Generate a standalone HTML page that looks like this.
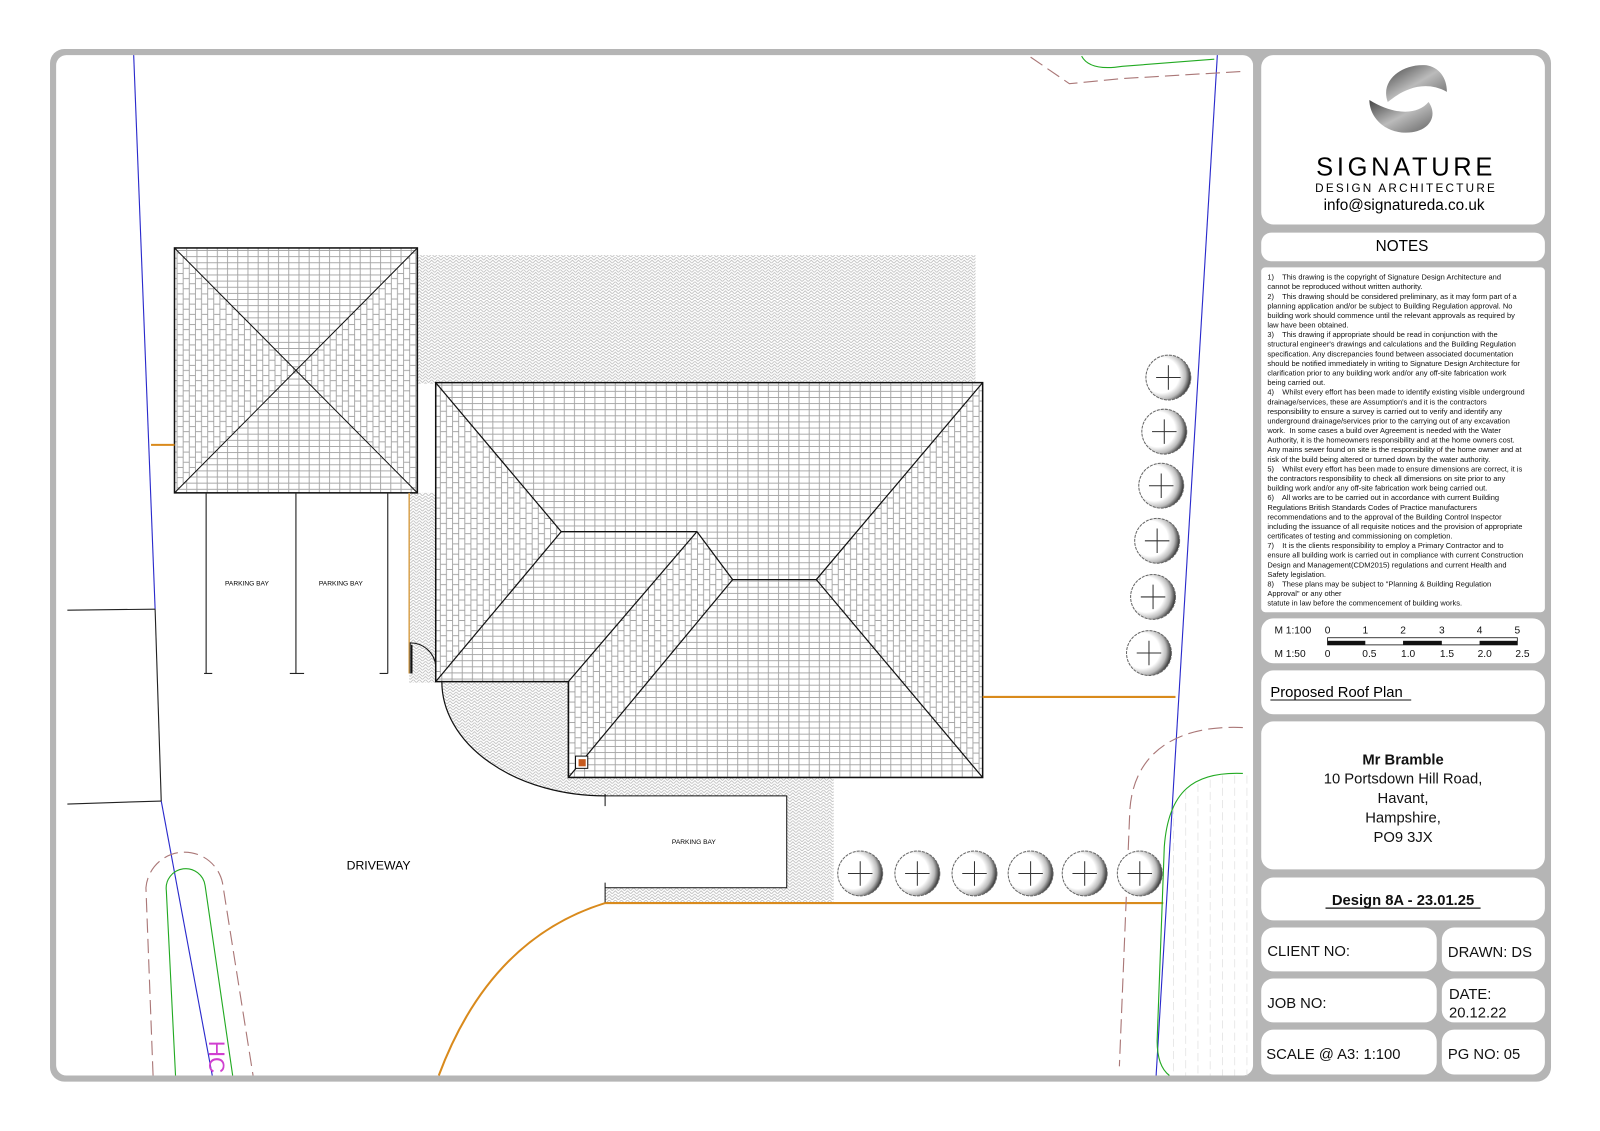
<!DOCTYPE html>
<html><head><meta charset="utf-8"><style>
html,body{margin:0;padding:0;background:#fff}
svg{display:block}
text{font-family:"Liberation Sans",sans-serif}
.n text{white-space:pre}
</style></head><body>
<svg width="1600" height="1131" viewBox="0 0 1568 1108.4" xmlns="http://www.w3.org/2000/svg">
<defs>
<pattern id="th" width="10" height="6" patternUnits="userSpaceOnUse">
<rect width="10" height="6" fill="#fff"/>
<path d="M0 5.5H10M3 0V5.5" stroke="#999" stroke-width="0.8" fill="none"/>
</pattern>
<pattern id="tv" width="12" height="10" patternUnits="userSpaceOnUse">
<rect width="12" height="10" fill="#fff"/>
<path d="M5.5 0V10M11.5 0V10M0 3H5.5M6 8H11.5" stroke="#999" stroke-width="0.8" fill="none"/>
</pattern>
<pattern id="hb" width="6" height="6" patternUnits="userSpaceOnUse">
<rect width="6" height="6" fill="#fff"/>
<path d="M0 6L3 3L6 6M0 3L3 0L6 3" stroke="#bbb" stroke-width="0.8" fill="none"/>
</pattern>
<linearGradient id="lg" x1="0" y1="0" x2="1" y2="1"><stop offset="0" stop-color="#444"/><stop offset="0.5" stop-color="#bbb"/><stop offset="1" stop-color="#666"/></linearGradient>
<radialGradient id="tr" cx="0.35" cy="0.45" r="0.65"><stop offset="0.6" stop-color="#fff"/><stop offset="0.82" stop-color="#bbb"/><stop offset="1" stop-color="#333"/></radialGradient>
</defs>

<rect x="49" y="48" width="1471" height="1012" rx="14" fill="#b5b5b5"/>
<rect x="55" y="54" width="1173" height="1000" rx="10" fill="#fff"/>
<g fill="#fff">
<rect x="1236" y="54" width="278" height="166" rx="12"/>
<rect x="1236" y="228" width="278" height="28" rx="10"/>
<rect x="1236" y="262" width="278" height="338" rx="4"/>
<rect x="1236" y="606" width="278" height="44" rx="12"/>
<rect x="1236" y="657" width="278" height="43" rx="12"/>
<rect x="1236" y="707" width="278" height="145" rx="12"/>
<rect x="1236" y="860" width="278" height="42" rx="12"/>
<rect x="1236" y="909" width="172" height="43" rx="12"/>
<rect x="1413" y="909" width="101" height="43" rx="12"/>
<rect x="1236" y="959" width="172" height="43" rx="12"/>
<rect x="1413" y="959" width="101" height="43" rx="12"/>
<rect x="1236" y="1009" width="172" height="44" rx="12"/>
<rect x="1413" y="1009" width="101" height="44" rx="12"/>
</g>

<path d="M1398 64 C1375 62 1352 78 1360 100 C1370 92 1392 76 1418 90 C1418 76 1410 66 1398 64Z" fill="url(#lg)"/>
<path d="M1342 98 C1342 114 1356 130 1378 130 C1400 130 1410 114 1400 100 C1390 112 1368 114 1342 98Z" fill="url(#lg)"/>
<text x="1378" y="172" font-size="25" text-anchor="middle" letter-spacing="3.6">SIGNATURE</text>
<text x="1378" y="188" font-size="11.5" text-anchor="middle" letter-spacing="2.2">DESIGN ARCHITECTURE</text>
<text x="1376" y="206" font-size="15" text-anchor="middle">info@signatureda.co.uk</text>
<text x="1374" y="246" font-size="15" text-anchor="middle">NOTES</text>

<g class="n" font-size="7.35" fill="#111" xml:space="preserve">
<text x="1242" y="274">1)    This drawing is the copyright of Signature Design Architecture and</text>
<text x="1242" y="283.4">cannot be reproduced without written authority.</text>
<text x="1242" y="292.8">2)    This drawing should be considered preliminary, as it may form part of a</text>
<text x="1242" y="302.2">planning application and/or be subject to Building Regulation approval. No</text>
<text x="1242" y="311.6">building work should commence until the relevant approvals as required by</text>
<text x="1242" y="321">law have been obtained.</text>
<text x="1242" y="330.4">3)    This drawing if appropriate should be read in conjunction with the</text>
<text x="1242" y="339.8">structural engineer's drawings and calculations and the Building Regulation</text>
<text x="1242" y="349.2">specification. Any discrepancies found between associated documentation</text>
<text x="1242" y="358.6">should be notified immediately in writing to Signature Design Architecture for</text>
<text x="1242" y="368">clarification prior to any building work and/or any off-site fabrication work</text>
<text x="1242" y="377.4">being carried out.</text>
<text x="1242" y="386.8">4)    Whilst every effort has been made to identify existing visible underground</text>
<text x="1242" y="396.2">drainage/services, these are Assumption's and it is the contractors</text>
<text x="1242" y="405.6">responsibility to ensure a survey is carried out to verify and identify any</text>
<text x="1242" y="415">underground drainage/services prior to the carrying out of any excavation</text>
<text x="1242" y="424.4">work.  In some cases a build over Agreement is needed with the Water</text>
<text x="1242" y="433.8">Authority, it is the homeowners responsibility and at the home owners cost.</text>
<text x="1242" y="443.2">Any mains sewer found on site is the responsibility of the home owner and at</text>
<text x="1242" y="452.6">risk of the build being altered or turned down by the water authority.</text>
<text x="1242" y="462">5)    Whilst every effort has been made to ensure dimensions are correct, it is</text>
<text x="1242" y="471.4">the contractors responsibility to check all dimensions on site prior to any</text>
<text x="1242" y="480.8">building work and/or any off-site fabrication work being carried out.</text>
<text x="1242" y="490.2">6)    All works are to be carried out in accordance with current Building</text>
<text x="1242" y="499.6">Regulations British Standards Codes of Practice manufacturers</text>
<text x="1242" y="509">recommendations and to the approval of the Building Control Inspector</text>
<text x="1242" y="518.4">including the issuance of all requisite notices and the provision of appropriate</text>
<text x="1242" y="527.8">certificates of testing and commissioning on completion.</text>
<text x="1242" y="537.2">7)    It is the clients responsibility to employ a Primary Contractor and to</text>
<text x="1242" y="546.6">ensure all building work is carried out in compliance with current Construction</text>
<text x="1242" y="556">Design and Management(CDM2015) regulations and current Health and</text>
<text x="1242" y="565.4">Safety legislation.</text>
<text x="1242" y="574.8">8)    These plans may be subject to "Planning &amp; Building Regulation</text>
<text x="1242" y="584.2">Approval" or any other</text>
<text x="1242" y="593.6">statute in law before the commencement of building works.</text>
</g>

<g font-size="10" fill="#111">
<text x="1249" y="621">M 1:100</text>
<text x="1249" y="644">M 1:50</text>
<g text-anchor="middle">
<text x="1301" y="621">0</text><text x="1338" y="621">1</text><text x="1375" y="621">2</text><text x="1413" y="621">3</text><text x="1450" y="621">4</text><text x="1487" y="621">5</text>
<text x="1301" y="644">0</text><text x="1342" y="644">0.5</text><text x="1380" y="644">1.0</text><text x="1418" y="644">1.5</text><text x="1455" y="644">2.0</text><text x="1492" y="644">2.5</text>
</g>
<rect x="1301" y="625" width="186" height="7" fill="#fff" stroke="#111" stroke-width="0.8"/>
<rect x="1301" y="628" width="37" height="4" fill="#111"/>
<rect x="1375" y="628" width="38" height="4" fill="#111"/>
<rect x="1450" y="628" width="37" height="4" fill="#111"/>
</g>

<text x="1245" y="683" font-size="14.5">Proposed Roof Plan</text>
<line x1="1245" y1="686" x2="1383" y2="686" stroke="#111" stroke-width="1"/>
<g font-size="14.5" text-anchor="middle" fill="#111">
<text x="1375" y="749" font-weight="bold">Mr Bramble</text>
<text x="1375" y="768">10 Portsdown Hill Road,</text>
<text x="1375" y="787">Havant,</text>
<text x="1375" y="806">Hampshire,</text>
<text x="1375" y="825">PO9 3JX</text>
<text x="1375" y="887" font-weight="bold">Design 8A - 23.01.25</text>
</g>
<line x1="1299" y1="890" x2="1451" y2="890" stroke="#111" stroke-width="1.2"/>
<g font-size="14.5" fill="#111">
<text x="1242" y="937">CLIENT NO:</text>
<text x="1419" y="938">DRAWN: DS</text>
<text x="1242" y="988">JOB NO:</text>
<text x="1420" y="979">DATE:</text>
<text x="1420" y="997">20.12.22</text>
<text x="1241" y="1038">SCALE @ A3: 1:100</text>
<text x="1419" y="1038">PG NO: 05</text>
</g>

<g>
<g fill="url(#hb)">
<rect x="409" y="250" width="547" height="126"/>
<rect x="401" y="483" width="27" height="186"/>
<path d="M427 668 L557 668 L557 762 L817 762 L817 885 L593 885 L593 870 L771 870 L771 780 L593 780 A160 112 0 0 1 433 668Z"/>
</g>
<path d="M433 668 A160 112 0 0 0 593 780" fill="none" stroke="#111" stroke-width="1.2"/>
<path d="M593 780 H771 V870 H593" fill="none" stroke="#111" stroke-width="1"/>
<line x1="593" y1="778" x2="593" y2="790" stroke="#111"/>
<line x1="593" y1="865" x2="593" y2="885" stroke="#111"/>
<text x="680" y="827" font-size="6.5" text-anchor="middle">PARKING BAY</text>

<rect x="171" y="243" width="238" height="240" fill="url(#th)"/>
<polygon points="171,243 290,363 171,483" fill="url(#tv)"/>
<polygon points="409,243 290,363 409,483" fill="url(#tv)"/>
<rect x="171" y="243" width="238" height="240" fill="none" stroke="#111" stroke-width="1.5"/>
<path d="M171 243 L409 483 M409 243 L171 483" stroke="#111" stroke-width="1"/>
<line x1="148" y1="436" x2="171" y2="436" stroke="#d98a1c" stroke-width="2"/>

<g stroke="#222" stroke-width="1.1">
<line x1="202" y1="483" x2="202" y2="660"/><line x1="200" y1="660" x2="208" y2="660"/>
<line x1="290" y1="483" x2="290" y2="660"/><line x1="284" y1="660" x2="298" y2="660"/>
<line x1="380" y1="483" x2="380" y2="660"/><line x1="372" y1="660" x2="380" y2="660"/>
</g>
<text x="242" y="574" font-size="6.5" text-anchor="middle">PARKING BAY</text>
<text x="334" y="574" font-size="6.5" text-anchor="middle">PARKING BAY</text>
<line x1="401" y1="483" x2="401" y2="660" stroke="#d9a350" stroke-width="1.5"/>
<path d="M402 660 V630 A25 25 0 0 1 427 652" fill="none" stroke="#111" stroke-width="1"/>
<line x1="403.5" y1="632" x2="403.5" y2="660" stroke="#111" stroke-width="1.5"/>

<polygon points="427,375 963,375 963,762 557,762 557,668 427,668" fill="url(#th)"/>
<polygon points="427,375 550,521 427,668" fill="url(#tv)"/>
<polygon points="963,375 963,762 800,568" fill="url(#tv)"/>
<polygon points="683,521 718,568 557,762 557,668" fill="url(#tv)"/>
<polygon points="427,375 963,375 963,762 557,762 557,668 427,668" fill="none" stroke="#111" stroke-width="1.5"/>
<g stroke="#111" stroke-width="1.2" fill="none">
<path d="M427 375 L550 521 L683 521 L718 568 L800 568 L963 375"/>
<path d="M800 568 L963 762"/>
<path d="M550 521 L427 668"/>
<path d="M683 521 L557 668"/>
<path d="M718 568 L557 762"/>
</g>
<rect x="564" y="741" width="12" height="12" fill="#fff" stroke="#111"/>
<rect x="567" y="744" width="7" height="7" fill="#c65a1e"/>

<g stroke="#d98a1c" stroke-width="2" fill="none">
<line x1="963" y1="683" x2="1152" y2="683"/>
<line x1="593" y1="885" x2="1140" y2="885"/>
<path d="M430 1054 Q480 920 593 885"/>
</g>

<g fill="none" stroke-width="1.1">
<path d="M131 54 L152 597" stroke="#2a2acc"/>
<path d="M152 597 L158 785" stroke="#222"/>
<path d="M158 785 L208 1054" stroke="#2a2acc"/>
<path d="M66 598 L152 597 M66 788 L158 785" stroke="#222"/>
<path d="M1193 54 L1133 1054" stroke="#2a2acc"/>
</g>

<g fill="none" stroke-width="1.1">
<path d="M1010 56 L1048 82 L1100 77 L1218 70" stroke="#a77" stroke-dasharray="14 6"/>
<path d="M1060 55 Q1068 70 1100 65 L1190 58" stroke="#2a2"/>
</g>

<g stroke="#e4e4e4" stroke-width="0.8" stroke-dasharray="8 4">
<line x1="1150" y1="790" x2="1150" y2="1054"/><line x1="1162" y1="775" x2="1162" y2="1054"/>
<line x1="1174" y1="768" x2="1174" y2="1054"/><line x1="1186" y1="764" x2="1186" y2="1054"/>
<line x1="1198" y1="760" x2="1198" y2="1054"/><line x1="1210" y1="760" x2="1210" y2="1054"/>
<line x1="1222" y1="760" x2="1222" y2="1054"/>
</g>
<path d="M1218 713 C1150 710 1108 740 1107 800 L1097 1045" fill="none" stroke="#a77" stroke-width="1.1" stroke-dasharray="14 6"/>
<path d="M1218 758 C1170 756 1145 775 1141 830 L1134 1020 Q1134 1045 1146 1054" fill="none" stroke="#2a2" stroke-width="1.1"/>

<path d="M172 1054 L163 873 A19 19 0 0 1 201 868 L228 1054" fill="none" stroke="#2a2" stroke-width="1.1"/>
<path d="M150 1054 L143 870 A38 38 0 0 1 218 865 L248 1054" fill="none" stroke="#a77" stroke-width="1.1" stroke-dasharray="14 6"/>
<text x="0" y="0" font-size="22" fill="#d040d0" transform="translate(205,1020) rotate(90)">HC</text>

<text x="371" y="852" font-size="12" text-anchor="middle">DRIVEWAY</text>

<g stroke="#333" stroke-width="1">
<g fill="url(#tr)" stroke="#666" stroke-dasharray="3 1">
<circle cx="1145" cy="370" r="22"/><circle cx="1141" cy="423" r="22"/><circle cx="1138" cy="476" r="22"/>
<circle cx="1134" cy="530" r="22"/><circle cx="1130" cy="585" r="22"/><circle cx="1126" cy="640" r="22"/>
<circle cx="843" cy="856" r="22"/><circle cx="899" cy="856" r="22"/><circle cx="955" cy="856" r="22"/>
<circle cx="1010" cy="856" r="22"/><circle cx="1063" cy="856" r="22"/><circle cx="1117" cy="856" r="22"/>
</g>
<path d="M1133 370h24M1145 358v24 M1129 423h24M1141 411v24 M1126 476h24M1138 464v24 M1122 530h24M1134 518v24 M1118 585h24M1130 573v24 M1114 640h24M1126 628v24 M831 856h24M843 844v24 M887 856h24M899 844v24 M943 856h24M955 844v24 M998 856h24M1010 844v24 M1051 856h24M1063 844v24 M1105 856h24M1117 844v24"/>
</g>
</g>
</svg>
</body></html>
